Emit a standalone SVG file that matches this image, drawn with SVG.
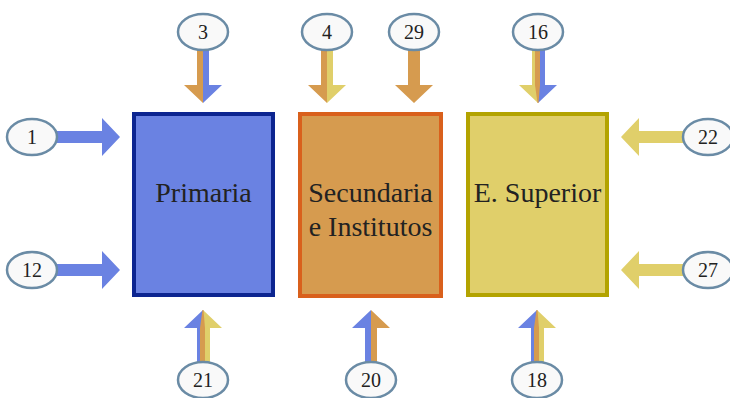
<svg xmlns="http://www.w3.org/2000/svg" width="730" height="398" viewBox="0 0 730 398">
<style>
.lbl{font-family:"Liberation Serif","Times New Roman",serif;font-size:28px;fill:#222;text-anchor:middle}
.num{font-family:"Liberation Serif","Times New Roman",serif;font-size:20px;fill:#222;text-anchor:middle}
.oval{fill:#f9f9f9;stroke:#6a8ba5;stroke-width:2.5}
.b{fill:#6a82e2}.o{fill:#d69b4f}.y{fill:#e0cf6a}
</style>
<rect width="730" height="398" fill="#fff"/>
<g id="connectors">
<polygon class="o" points="197,50 203,50 203,103 184,85 197,85"/>
<polygon class="b" points="203,50 209,50 209,85 222,85 203,103"/>
<polygon class="o" points="321,50 327,50 327,103 308,85 321,85"/>
<polygon class="y" points="327,50 333,50 333,85 346,85 327,103"/>
<polygon class="o" points="408,50 420,50 420,85 433,85 414,103 395,85 408,85"/>
<polygon class="y" points="532,50 538,50 538,103 519,85 532,85"/>
<polygon class="b" points="538,50 545,50 545,85 557,85 538,103"/>
<polygon class="o" points="535,50 540,50 540,85 538.5,103 537.5,103 535,85"/>
<polygon class="b" points="57,131 102,131 102,118 120,137 102,156 102,143 57,143"/>
<polygon class="b" points="57,264 102,264 102,251 120,270 102,289 102,276 57,276"/>
<polygon class="y" points="683,131 639,131 639,118 621,137 639,156 639,143 683,143"/>
<polygon class="y" points="683,264 639,264 639,251 621,270 639,289 639,276 683,276"/>
<polygon class="b" points="197,363 203,363 203,310 184,328 197,328"/>
<polygon class="y" points="203,363 210,363 210,328 222,328 203,310"/>
<polygon class="o" points="200,363 205,363 205,328 203.5,310 202.5,310 200,328"/>
<polygon class="b" points="365,363 371,363 371,310 352,328 365,328"/>
<polygon class="o" points="371,363 377,363 377,328 390,328 371,310"/>
<polygon class="b" points="531,363 537,363 537,310 518,328 531,328"/>
<polygon class="y" points="537,363 544,363 544,328 556,328 537,310"/>
<polygon class="o" points="534,363 539,363 539,328 537.5,310 536.5,310 534,328"/>
</g>
<g id="primaria">
<rect x="134" y="114" width="139" height="181" fill="#6a82e2" stroke="#0c2590" stroke-width="4"/>
<text class="lbl" x="203.5" y="202">Primaria</text>
</g>
<g id="secundaria">
<rect x="300" y="114" width="141" height="182" fill="#d69b4f" stroke="#d9601c" stroke-width="4"/>
<text class="lbl" x="370.5" y="202">Secundaria</text>
<text class="lbl" x="370.5" y="236">e Institutos</text>
</g>
<g id="superior">
<rect x="468" y="114" width="139" height="181" fill="#e0cf6a" stroke="#b3a300" stroke-width="4"/>
<text class="lbl" x="537.5" y="202">E. Superior</text>
</g>
<g id="n3"><ellipse class="oval" cx="203" cy="32" rx="25" ry="18"/><text class="num" x="203" y="39">3</text></g>
<g id="n4"><ellipse class="oval" cx="327" cy="32" rx="25" ry="18"/><text class="num" x="327" y="39">4</text></g>
<g id="n29"><ellipse class="oval" cx="414" cy="32" rx="25" ry="18"/><text class="num" x="414" y="39">29</text></g>
<g id="n16"><ellipse class="oval" cx="538" cy="32" rx="25" ry="18"/><text class="num" x="538" y="39">16</text></g>
<g id="n1"><ellipse class="oval" cx="32" cy="137" rx="25" ry="18"/><text class="num" x="32" y="144">1</text></g>
<g id="n12"><ellipse class="oval" cx="32" cy="270" rx="25" ry="18"/><text class="num" x="32" y="277">12</text></g>
<g id="n22"><ellipse class="oval" cx="708" cy="137" rx="25" ry="18"/><text class="num" x="708" y="144">22</text></g>
<g id="n27"><ellipse class="oval" cx="708" cy="270" rx="25" ry="18"/><text class="num" x="708" y="277">27</text></g>
<g id="n21"><ellipse class="oval" cx="203" cy="380" rx="25" ry="18"/><text class="num" x="203" y="387">21</text></g>
<g id="n20"><ellipse class="oval" cx="371" cy="380" rx="25" ry="18"/><text class="num" x="371" y="387">20</text></g>
<g id="n18"><ellipse class="oval" cx="537" cy="380" rx="25" ry="18"/><text class="num" x="537" y="387">18</text></g>
</svg>
